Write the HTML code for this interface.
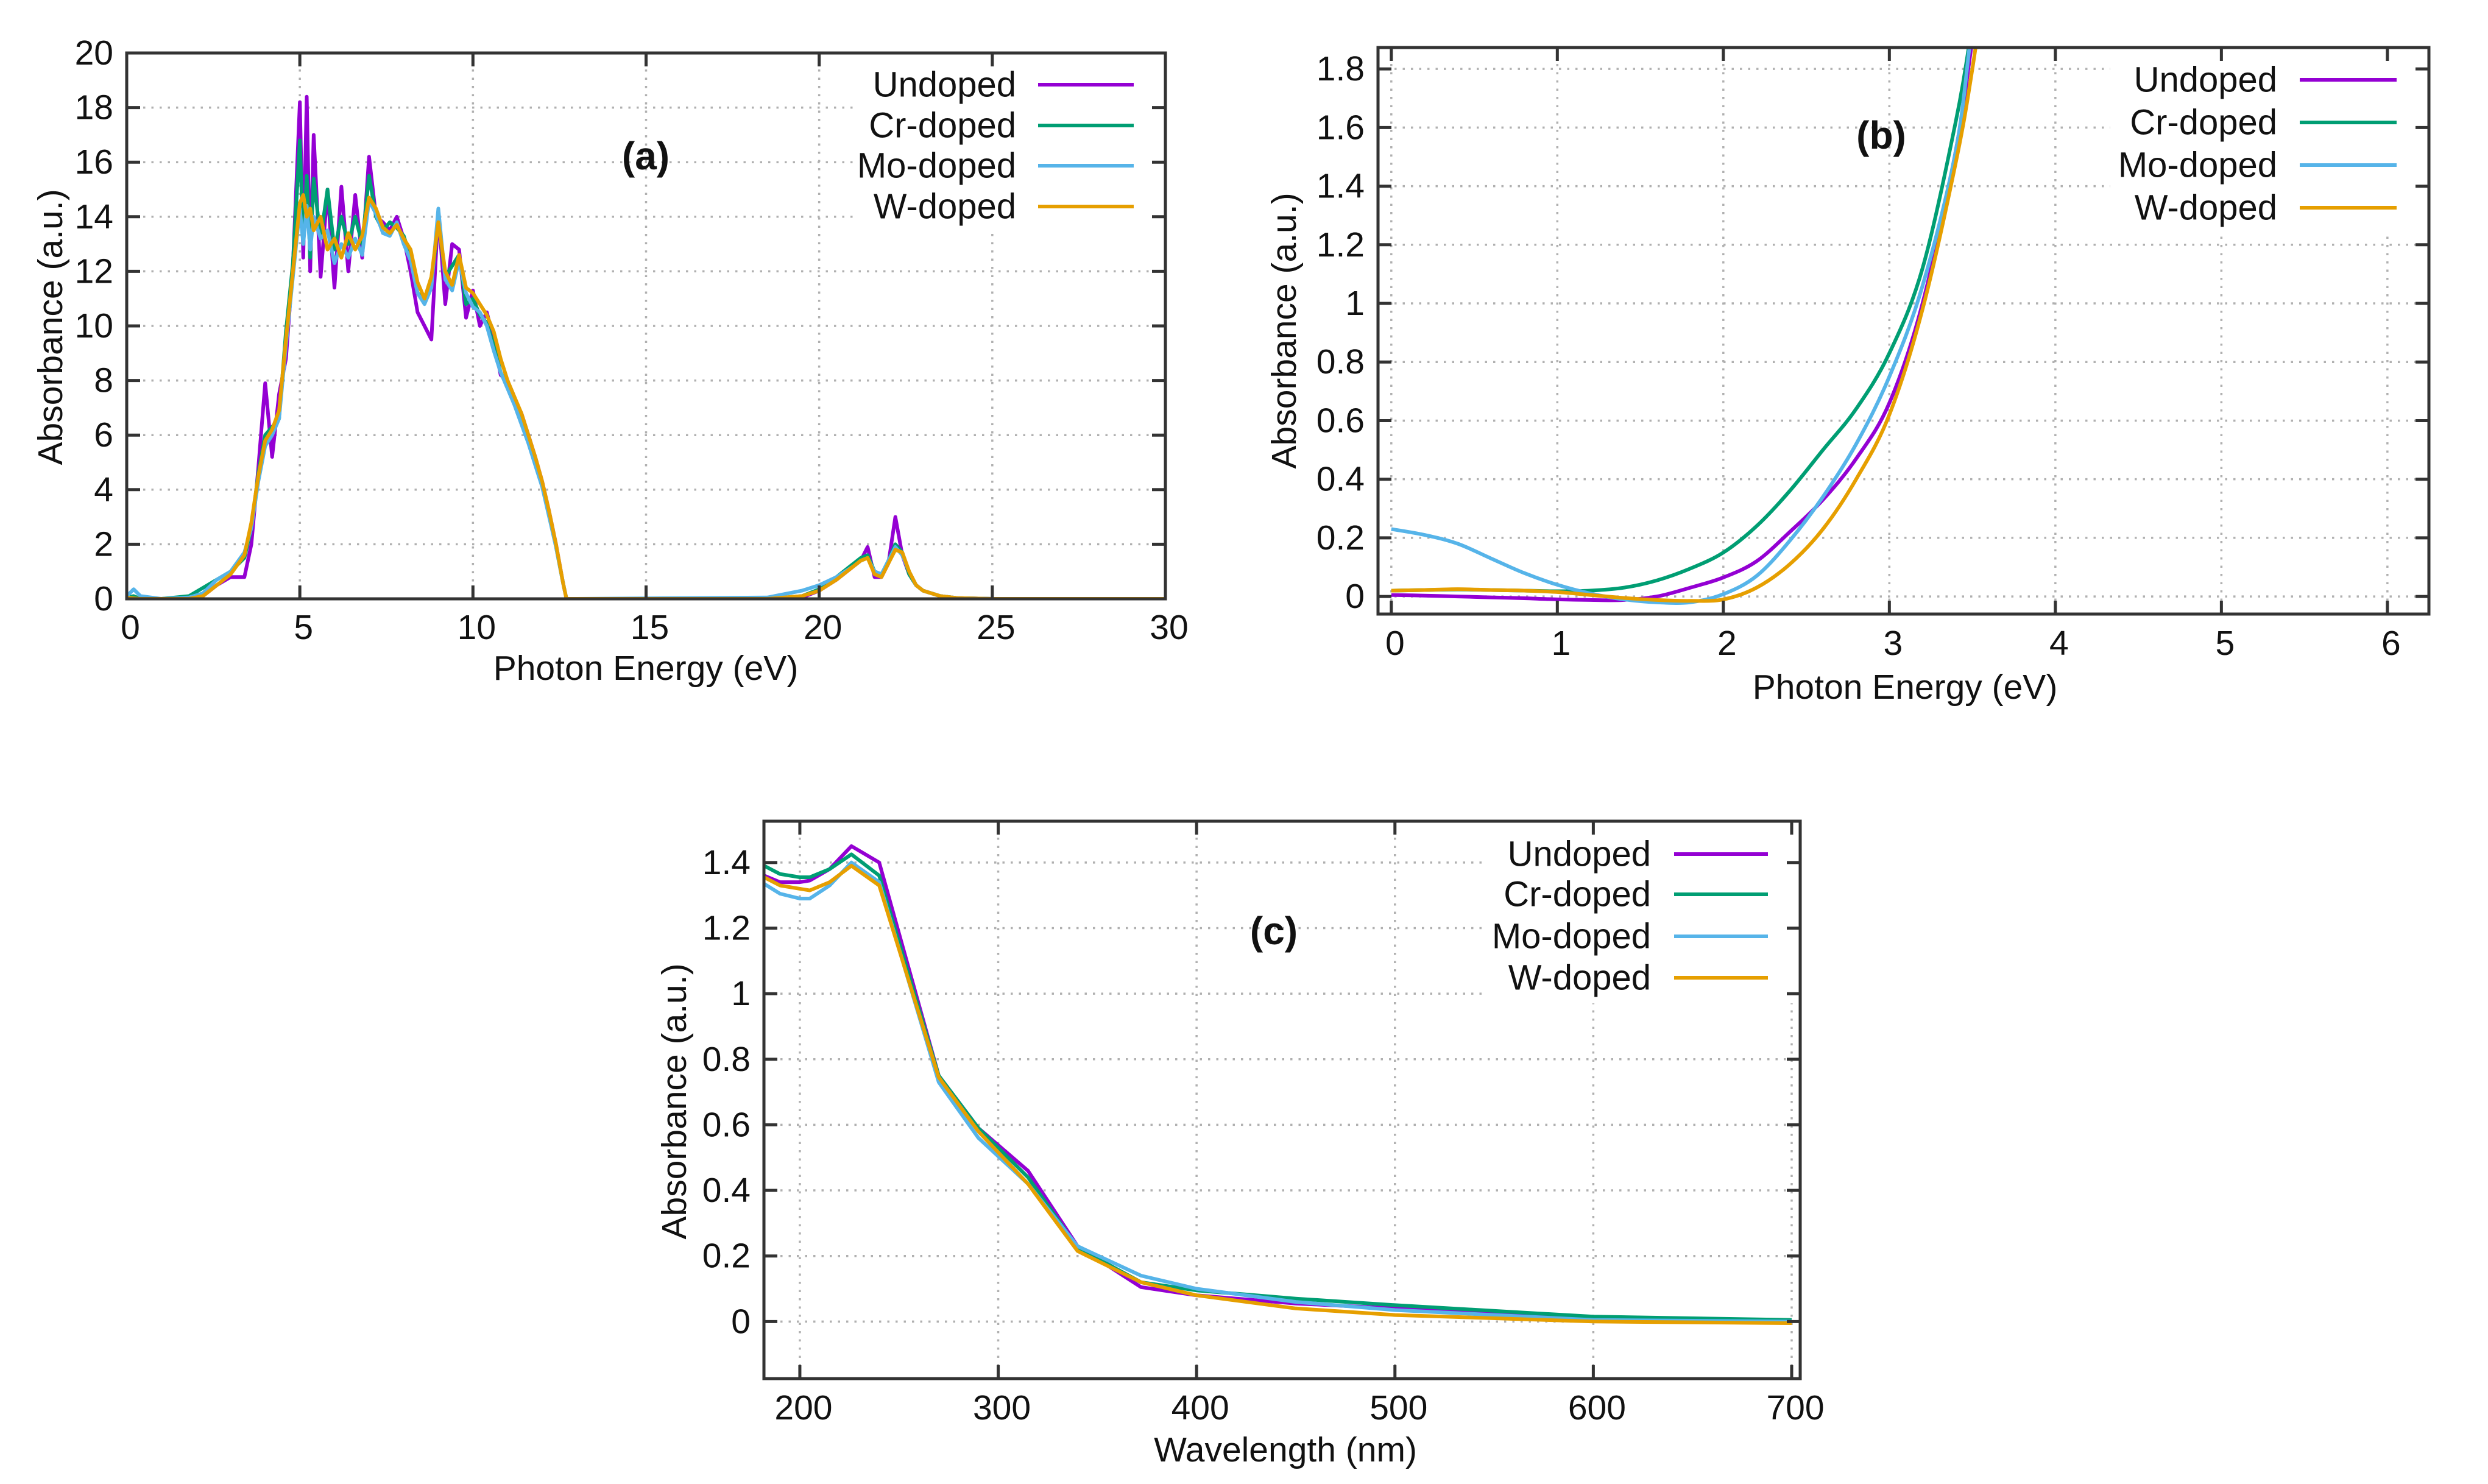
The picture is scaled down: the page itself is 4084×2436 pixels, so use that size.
<!DOCTYPE html>
<html><head><meta charset="utf-8"><title>Absorbance spectra</title>
<style>
html,body{margin:0;padding:0;background:#fff;}
svg{display:block;}
text{font-family:"Liberation Sans","DejaVu Sans",sans-serif;fill:#111;}
</style></head>
<body>
<svg id="fig" xmlns="http://www.w3.org/2000/svg" width="4084" height="2436" viewBox="0 0 4084 2436">
<rect x="0" y="0" width="4084" height="2436" fill="#fff"/>
</svg>
<script>
// ---------- Panel (a) data ----------
const energyA = [0,0.2,0.4,1,1.8,2.2,2.6,3.0,3.4,3.6,3.8,4.0,4.2,4.4,4.6,4.8,5.0,5.1,5.2,5.3,5.4,5.6,5.8,6.0,6.2,6.4,6.6,6.8,7.0,7.2,7.4,7.6,7.8,8.0,8.2,8.4,8.6,8.8,9.0,9.2,9.4,9.6,9.8,10.0,10.2,10.4,10.6,10.8,11.0,11.2,11.4,11.6,11.8,12.0,12.2,12.4,12.6,12.7,13,18.5,19.5,20,20.5,21,21.2,21.4,21.6,21.8,22,22.2,22.4,22.6,22.8,23,23.5,24,25,30];
const undopedA = [0.02,0.02,0,0,0,0.1,0.5,0.8,0.8,2.0,4.8,7.9,5.2,7.5,8.8,12.2,18.2,12.5,18.4,12.0,17.0,11.8,15.0,11.4,15.1,12.0,14.8,12.5,16.2,14.0,13.8,13.5,14.0,13.2,12.0,10.5,10.0,9.5,14.2,10.8,13.0,12.8,10.3,11.3,10.0,10.5,9.5,8.2,8.0,7.3,6.8,6.0,5.2,4.3,3.2,2.0,0.6,0,0,0,0.05,0.3,0.7,1.2,1.4,1.9,0.8,0.8,1.3,3.0,1.6,0.9,0.5,0.3,0.1,0.03,0,0];
const crA = [0.05,0.1,0,0,0.1,0.4,0.7,1.0,1.5,2.6,4.6,6.0,6.3,6.6,9.8,12.3,16.8,13.0,15.5,12.5,15.4,13.2,15.0,12.8,14.0,13.0,14.0,13.0,15.5,14.0,13.5,13.8,13.6,13.3,12.5,11.2,11.0,11.5,13.9,11.8,12.2,12.6,10.8,11.0,10.4,10.1,9.3,8.3,7.8,7.2,6.6,5.9,5.1,4.2,3.1,1.9,0.6,0,0,0,0.1,0.35,0.8,1.3,1.5,1.6,1.0,0.9,1.4,2.0,1.7,0.9,0.5,0.3,0.1,0.03,0,0];
const moA = [0.1,0.35,0.1,0,0.05,0.2,0.7,1.0,1.7,2.6,4.3,5.6,6.0,6.6,9.3,11.8,14.3,13.0,14.4,12.8,14.0,13.2,13.5,12.3,13.0,12.5,13.2,12.6,14.6,14.1,13.4,13.3,13.8,13.0,12.4,11.2,10.8,11.4,14.3,11.7,11.3,12.4,11.2,10.7,10.5,10.0,9.1,8.3,7.7,7.1,6.4,5.7,4.9,4.1,3.0,1.9,0.6,0,0,0.05,0.3,0.5,0.8,1.2,1.4,1.5,1.0,0.9,1.4,1.9,1.6,1.0,0.5,0.3,0.1,0.03,0,0];
const wA = [0.05,0.02,0,0,0,0.1,0.5,0.9,1.6,2.8,4.5,5.8,6.2,6.9,9.5,12.0,14.5,14.8,14.0,14.3,13.5,14.0,12.8,13.2,12.5,13.4,12.8,13.3,14.7,14.3,13.6,13.4,13.7,13.2,12.8,11.6,11.0,11.8,13.8,12.0,11.5,12.6,11.4,11.2,10.8,10.4,9.8,8.8,8.0,7.4,6.8,6.0,5.2,4.3,3.2,2.0,0.6,0,0,0,0.1,0.3,0.7,1.2,1.4,1.5,0.9,0.8,1.3,1.8,1.7,1.0,0.5,0.3,0.1,0.03,0,0];
const xTicksA = [0,5,10,15,20,25,30];
const yTicksA = [0,2,4,6,8,10,12,14,16,18,20];

// ---------- Panel (b) data ----------
const energyB = [0,0.2,0.4,0.6,0.8,1.0,1.2,1.4,1.6,1.8,2.0,2.2,2.4,2.6,2.8,3.0,3.2,3.4,3.5,3.6];
const undopedB = [0.005,0.003,0,-0.003,-0.006,-0.01,-0.012,-0.012,0,0.03,0.065,0.12,0.22,0.33,0.47,0.66,1.0,1.52,1.9,2.3];
const crB = [0.02,0.022,0.024,0.022,0.02,0.018,0.02,0.03,0.055,0.095,0.15,0.24,0.36,0.5,0.64,0.83,1.12,1.62,1.95,2.3];
const moB = [0.23,0.21,0.18,0.13,0.08,0.04,0.01,-0.01,-0.02,-0.02,0.008,0.07,0.19,0.34,0.52,0.75,1.06,1.52,1.95,2.3];
const wB = [0.02,0.022,0.025,0.022,0.02,0.015,0.005,-0.005,-0.012,-0.015,-0.01,0.03,0.11,0.23,0.4,0.62,0.98,1.48,1.8,2.2];
const xTicksB = [0,1,2,3,4,5,6];
const yTicksB = [0,0.2,0.4,0.6,0.8,1,1.2,1.4,1.6,1.8];

// ---------- Panel (c) data ----------
const waveC = [182,190,200,205,215,226,240,270,290,315,340,372,400,450,500,600,700];
const undopedC = [1.36,1.34,1.34,1.345,1.38,1.45,1.40,0.75,0.59,0.46,0.23,0.105,0.08,0.055,0.04,0.01,0.0];
const crC = [1.39,1.365,1.355,1.355,1.38,1.425,1.36,0.75,0.59,0.44,0.225,0.12,0.095,0.07,0.05,0.015,0.005];
const moC = [1.335,1.305,1.29,1.29,1.33,1.40,1.34,0.73,0.56,0.42,0.23,0.14,0.1,0.06,0.035,0.005,0.0];
const wC = [1.355,1.33,1.32,1.315,1.34,1.39,1.33,0.745,0.58,0.42,0.215,0.12,0.08,0.04,0.02,0.0,-0.005];
const xTicksC = [200,300,400,500,600,700];
const yTicksC = [0,0.2,0.4,0.6,0.8,1,1.2,1.4];

const seriesNames = ["Undoped","Cr-doped","Mo-doped","W-doped"];
const seriesColors = ["#9400d3","#009e73","#56b4e9","#e69f00"];

const NS = "http://www.w3.org/2000/svg";
const fig = document.getElementById("fig");
function mk(tag, attrs, parent){
  const el = document.createElementNS(NS, tag);
  for (const k in attrs) el.setAttribute(k, attrs[k]);
  (parent||fig).appendChild(el);
  return el;
}
function smoothPath(p){
  let d = "M"+p[0][0].toFixed(1)+","+p[0][1].toFixed(1);
  for (let i=0;i<p.length-1;i++){
    const p0=p[i-1]||p[i], p1=p[i], p2=p[i+1], p3=p[i+2]||p2;
    const c1x=p1[0]+(p2[0]-p0[0])/6, c1y=p1[1]+(p2[1]-p0[1])/6;
    const c2x=p2[0]-(p3[0]-p1[0])/6, c2y=p2[1]-(p3[1]-p1[1])/6;
    d += " C"+c1x.toFixed(1)+","+c1y.toFixed(1)+" "+c2x.toFixed(1)+","+c2y.toFixed(1)+" "+p2[0].toFixed(1)+","+p2[1].toFixed(1);
  }
  return d;
}

function drawPanel(cfg){
  const g = mk("g", {});
  
  
  const L=cfg.left,R=cfg.right,T=cfg.top,B=cfg.bottom;
  const sx = v => L + (v - cfg.xmin)/(cfg.xmax - cfg.xmin)*(R-L);
  const sy = v => B - (v - cfg.ymin)/(cfg.ymax - cfg.ymin)*(B-T);
  const grid = mk("g", {stroke:"#b0b0b0","stroke-width":"3.5","stroke-dasharray":"3.5,10"}, g);
  
  
  cfg.xticks.forEach(t=>{
    const ln = mk("line",{x1:sx(t),x2:sx(t),y1:T,y2:B},grid);
    
    
  });
  cfg.yticks.forEach(t=>{
    const ln = mk("line",{x1:L,x2:R,y1:sy(t),y2:sy(t)},grid);
    
    
  });
  const lb = mk("rect",{x:cfg.legGridStop,y:T+4,width:R-cfg.legGridStop-4,height:cfg.legRows[3]+38-T,fill:"#fff"},g);
  
  
  const cp = mk("clipPath",{id:"clip-"+cfg.id},g);
  mk("rect",{x:L,y:T,width:R-L,height:B-T},cp);
  const lines = mk("g",{"clip-path":"url(#clip-"+cfg.id+")"},g);
  
  
  cfg.series.forEach((arr,i)=>{
    let el;
    if (cfg.smooth){
      const p = arr.map((v,j)=>[sx(cfg.x[j]), sy(v)]);
      el = mk("path",{d:smoothPath(p),fill:"none",stroke:seriesColors[i],"stroke-width":"6","stroke-linejoin":"round"},lines);
    } else {
      const pts = arr.map((v,j)=>sx(cfg.x[j]).toFixed(1)+","+sy(v).toFixed(1)).join(" ");
      el = mk("polyline",{points:pts,fill:"none",stroke:seriesColors[i],"stroke-width":"6","stroke-linejoin":"round"},lines);
    }
    
    
  });
  const bd = mk("rect",{x:L,y:T,width:R-L,height:B-T,fill:"none",stroke:"#333","stroke-width":"5"},g);
  
  
  const tk = mk("g",{stroke:"#333","stroke-width":"5"},g);
  
  
  cfg.xticks.forEach(t=>{
    mk("line",{x1:sx(t),x2:sx(t),y1:B,y2:B-22},tk);
    mk("line",{x1:sx(t),x2:sx(t),y1:T,y2:T+22},tk);
    const tx = mk("text",{x:sx(t)+6,y:cfg.xLabelY,"font-size":"57","text-anchor":"middle","dominant-baseline":"central"},g);
    tx.textContent = String(t);
    
    
  });
  cfg.yticks.forEach(t=>{
    mk("line",{x1:L,x2:L+22,y1:sy(t),y2:sy(t)},tk);
    mk("line",{x1:R,x2:R-22,y1:sy(t),y2:sy(t)},tk);
    const tx = mk("text",{x:L-22,y:sy(t),"font-size":"57","text-anchor":"end","dominant-baseline":"central"},g);
    tx.textContent = String(t);
    
    
  });
  const xt = mk("text",{x:cfg.xTitle[0],y:cfg.xTitle[1],"font-size":"57","text-anchor":"middle","dominant-baseline":"central"},g);
  xt.textContent = cfg.xTitleText;
  
  
  const yt = mk("text",{x:0,y:0,"font-size":"57","text-anchor":"middle","dominant-baseline":"central",transform:"translate("+cfg.yTitle[0]+","+cfg.yTitle[1]+") rotate(-90)"},g);
  yt.textContent = "Absorbance (a.u.)";
  
  
  const pt = mk("text",{x:cfg.tag[0],y:cfg.tag[1],"font-size":"64","font-weight":"bold","text-anchor":"middle","dominant-baseline":"central"},g);
  pt.textContent = cfg.tagText;
  
  
  seriesNames.forEach((n,i)=>{
    const y = cfg.legRows[i];
    const lt = mk("text",{x:cfg.legTextR,y:y,"font-size":"58","text-anchor":"end","dominant-baseline":"central"},g);
    lt.textContent = n;
    
    
    const ll = mk("line",{x1:cfg.legLine[0],x2:cfg.legLine[1],y1:y,y2:y,stroke:seriesColors[i],"stroke-width":"6"},g);
    
    
  });
}

drawPanel({id:"panel-a",left:208,right:1913,top:87,bottom:983,xmin:0,xmax:30,ymin:0,ymax:20,
  x:energyA,series:[undopedA,crA,moA,wA],xticks:xTicksA,yticks:yTicksA,xLabelY:1030,
  xTitle:[1060,1097],xTitleText:"Photon Energy (eV)",yTitle:[83,537],tag:[1060,256],tagText:"(a)",
  legTextR:1668,legLine:[1704,1861],legRows:[139,206,272,339],legGridStop:1405});

drawPanel({id:"panel-b",left:2262,right:3987,top:78,bottom:1008,xmin:-0.08,xmax:6.25,ymin:-0.06,ymax:1.873,smooth:true,
  x:energyB,series:[undopedB,crB,moB,wB],xticks:xTicksB,yticks:yTicksB,xLabelY:1056,
  xTitle:[3127,1128],xTitleText:"Photon Energy (eV)",yTitle:[2108,543],tag:[3088,222],tagText:"(b)",
  legTextR:3738,legLine:[3775,3934],legRows:[131,201,271,341],legGridStop:3464});

drawPanel({id:"panel-c",left:1254,right:2955,top:1348,bottom:2263,xmin:181.9,xmax:704.3,ymin:-0.174,ymax:1.526,
  x:waveC,series:[undopedC,crC,moC,wC],xticks:xTicksC,yticks:yTicksC,xLabelY:2311,
  xTitle:[2110,2380],xTitleText:"Wavelength (nm)",yTitle:[1107,1808],tag:[2091,1528],tagText:"(c)",
  legTextR:2710,legLine:[2748,2902],legRows:[1402,1468,1537,1605],legGridStop:2442});
</script>
</body></html>
